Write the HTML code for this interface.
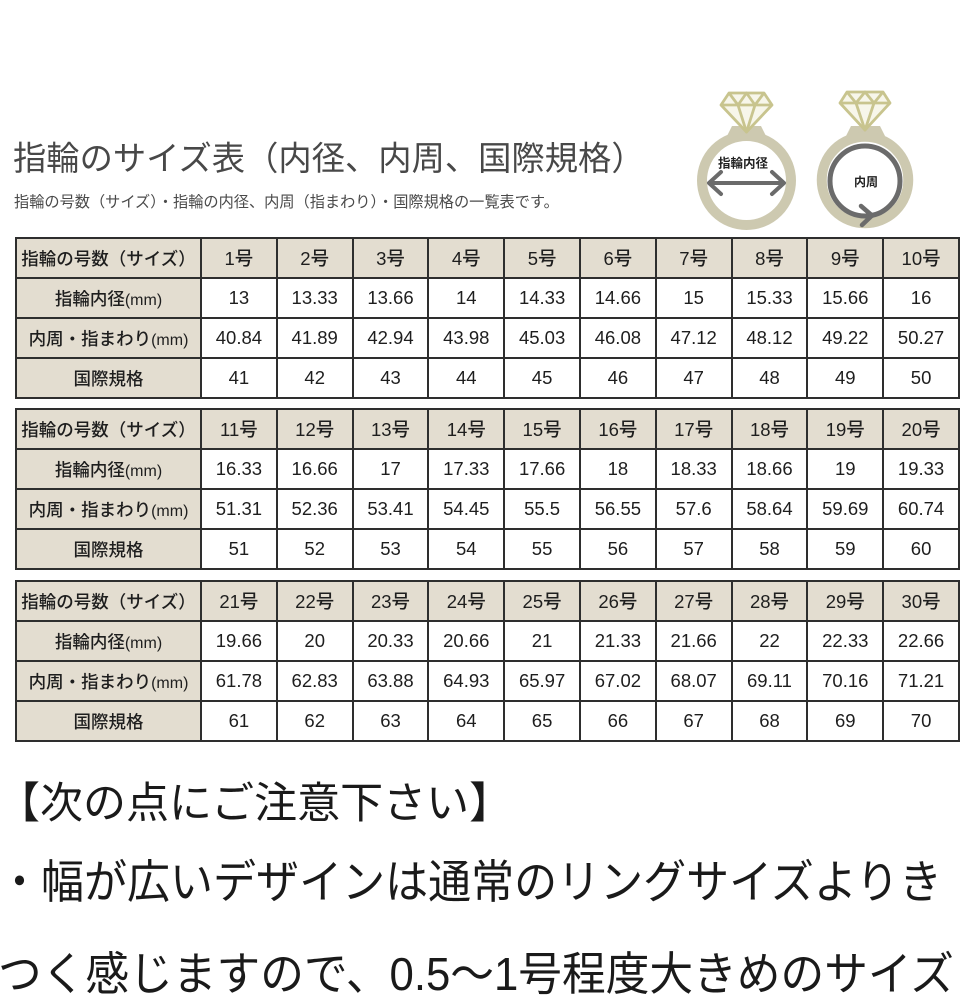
<!DOCTYPE html>
<html lang="ja">
<head>
<meta charset="utf-8">
<style>
  html,body{margin:0;padding:0;background:#fff;}
  body{width:970px;height:970px;position:relative;overflow:hidden;
       font-family:"Liberation Sans","Noto Sans CJK JP",sans-serif;color:#222;}
  .title{position:absolute;left:13px;top:143px;font-size:33.3px;line-height:33.3px;color:#484848;white-space:nowrap;letter-spacing:0;}
  .sub{position:absolute;left:14px;top:195px;font-size:15.2px;line-height:15.2px;color:#4a4a4a;white-space:nowrap;}
  table{position:absolute;left:15px;width:943px;border-collapse:collapse;table-layout:fixed;}
  td{border:2px solid #2e2e2e;padding:0;text-align:center;vertical-align:middle;font-size:18.5px;color:#1e1e1e;background:#fff;white-space:nowrap;overflow:hidden;font-weight:500;}
  tr{height:40px;}
  tr.h td{background:#e3ddd0;}
  td.l{background:#e3ddd0;font-size:17.5px;}
  td.l .m{font-size:16px;}
  .big{position:absolute;white-space:nowrap;color:#1a1a1a;transform-origin:0 0;}
  .l1{left:-3px;top:783px;font-size:43px;line-height:43px;}
  .l2{left:-2px;top:859px;font-size:46px;line-height:46px;transform:scaleX(0.935);}
  .l3{left:-2px;top:951px;font-size:46px;line-height:46px;transform:scaleX(0.95);}
  svg{position:absolute;left:0;top:0;}
</style>
</head>
<body>

<div class="title">指輪のサイズ表（内径、内周、国際規格）</div>
<div class="sub">指輪の号数（サイズ）・指輪の内径、内周（指まわり）・国際規格の一覧表です。</div>

<svg width="970" height="250" viewBox="0 0 970 250" xmlns="http://www.w3.org/2000/svg">
  <!-- Left ring -->
  <g>
    <path d="M727,136 L732,126 L761,126 L766,136 Z" fill="#cdc9b0"/>
    <circle cx="746.5" cy="180.5" r="44.5" fill="#fff" stroke="#cdc9b0" stroke-width="10"/>
    <g fill="none" stroke="#c8c48e" stroke-width="2.8" stroke-linejoin="round">
      <path d="M729,93 L764,93 L772,105 L746.5,132 L721,105 Z" fill="#f7f6ea"/>
      <path d="M721,105 L772,105"/>
      <path d="M729,93 L738,105 L746.5,93 L755,105 L764,93"/>
      <path d="M738,105 L746.5,132 L755,105"/>
    </g>
    <text x="743" y="167.5" font-family="Liberation Sans, Noto Sans CJK JP, sans-serif" font-size="12.5" font-weight="bold" fill="#222" text-anchor="middle">指輪内径</text>
    <g stroke="#6b6b6b" stroke-width="4" fill="none" stroke-linecap="round" stroke-linejoin="round">
      <path d="M710,183 L783,183"/>
      <path d="M721,172 L709,183 L721,194"/>
      <path d="M772,172 L784,183 L772,194"/>
    </g>
  </g>
  <!-- Right ring -->
  <g>
    <path d="M846,136 L851,126 L880,126 L885,136 Z" fill="#cdc9b0"/>
    <circle cx="865" cy="180" r="43.25" fill="#fff" stroke="#cdc9b0" stroke-width="10"/>
    <circle cx="865" cy="181" r="35" fill="none" stroke="#6b6b6b" stroke-width="5"/>
    <g fill="none" stroke="#c8c48e" stroke-width="2.8" stroke-linejoin="round">
      <path d="M847,92 L883,92 L890,103 L865,130 L840,103 Z" fill="#f7f6ea"/>
      <path d="M840,103 L890,103"/>
      <path d="M847,92 L856,103 L865,92 L874,103 L883,92"/>
      <path d="M856,103 L865,130 L874,103"/>
    </g>
    <path d="M861,206 L872,215.5 L862,225" fill="none" stroke="#6b6b6b" stroke-width="4.5" stroke-linecap="round" stroke-linejoin="round"/>
    <text x="866" y="186" font-family="Liberation Sans, Noto Sans CJK JP, sans-serif" font-size="12" font-weight="bold" fill="#222" text-anchor="middle">内周</text>
  </g>
</svg>

<table style="top:237px;">
  <colgroup><col style="width:185px"><col span="10" style="width:75.8px"></colgroup>
  <tr class="h"><td class="l">指輪の号数（サイズ）</td><td>1号</td><td>2号</td><td>3号</td><td>4号</td><td>5号</td><td>6号</td><td>7号</td><td>8号</td><td>9号</td><td>10号</td></tr>
  <tr><td class="l">指輪内径<span class="m">(mm)</span></td><td>13</td><td>13.33</td><td>13.66</td><td>14</td><td>14.33</td><td>14.66</td><td>15</td><td>15.33</td><td>15.66</td><td>16</td></tr>
  <tr><td class="l">内周・指まわり<span class="m">(mm)</span></td><td>40.84</td><td>41.89</td><td>42.94</td><td>43.98</td><td>45.03</td><td>46.08</td><td>47.12</td><td>48.12</td><td>49.22</td><td>50.27</td></tr>
  <tr><td class="l">国際規格</td><td>41</td><td>42</td><td>43</td><td>44</td><td>45</td><td>46</td><td>47</td><td>48</td><td>49</td><td>50</td></tr>
</table>

<table style="top:408px;">
  <colgroup><col style="width:185px"><col span="10" style="width:75.8px"></colgroup>
  <tr class="h"><td class="l">指輪の号数（サイズ）</td><td>11号</td><td>12号</td><td>13号</td><td>14号</td><td>15号</td><td>16号</td><td>17号</td><td>18号</td><td>19号</td><td>20号</td></tr>
  <tr><td class="l">指輪内径<span class="m">(mm)</span></td><td>16.33</td><td>16.66</td><td>17</td><td>17.33</td><td>17.66</td><td>18</td><td>18.33</td><td>18.66</td><td>19</td><td>19.33</td></tr>
  <tr><td class="l">内周・指まわり<span class="m">(mm)</span></td><td>51.31</td><td>52.36</td><td>53.41</td><td>54.45</td><td>55.5</td><td>56.55</td><td>57.6</td><td>58.64</td><td>59.69</td><td>60.74</td></tr>
  <tr><td class="l">国際規格</td><td>51</td><td>52</td><td>53</td><td>54</td><td>55</td><td>56</td><td>57</td><td>58</td><td>59</td><td>60</td></tr>
</table>

<table style="top:580px;">
  <colgroup><col style="width:185px"><col span="10" style="width:75.8px"></colgroup>
  <tr class="h"><td class="l">指輪の号数（サイズ）</td><td>21号</td><td>22号</td><td>23号</td><td>24号</td><td>25号</td><td>26号</td><td>27号</td><td>28号</td><td>29号</td><td>30号</td></tr>
  <tr><td class="l">指輪内径<span class="m">(mm)</span></td><td>19.66</td><td>20</td><td>20.33</td><td>20.66</td><td>21</td><td>21.33</td><td>21.66</td><td>22</td><td>22.33</td><td>22.66</td></tr>
  <tr><td class="l">内周・指まわり<span class="m">(mm)</span></td><td>61.78</td><td>62.83</td><td>63.88</td><td>64.93</td><td>65.97</td><td>67.02</td><td>68.07</td><td>69.11</td><td>70.16</td><td>71.21</td></tr>
  <tr><td class="l">国際規格</td><td>61</td><td>62</td><td>63</td><td>64</td><td>65</td><td>66</td><td>67</td><td>68</td><td>69</td><td>70</td></tr>
</table>

<div class="big l1">【次の点にご注意下さい】</div>
<div class="big l2">・幅が広いデザインは通常のリングサイズよりき</div>
<div class="big l3">つく感じますので、0.5～1号程度大きめのサイズ</div>

</body>
</html>
